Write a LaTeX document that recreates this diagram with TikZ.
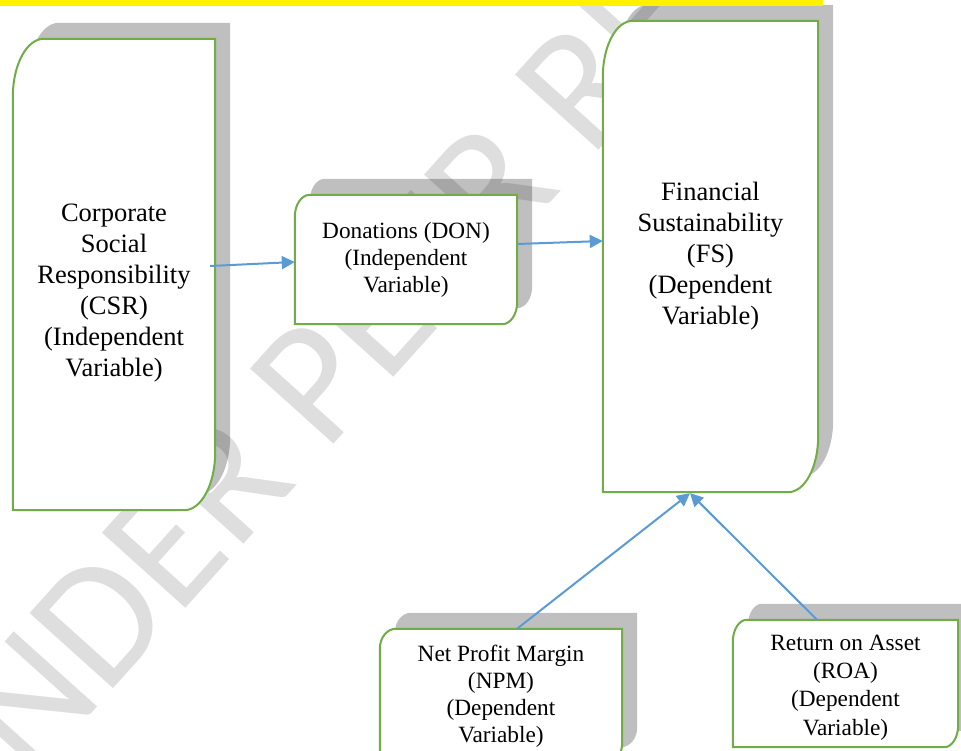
\documentclass[tikz,border=0pt]{standalone}
\usepackage{fontspec}
\setmainfont{Liberation Serif}
\newfontfamily\markfont{Carlito}
\usetikzlibrary{backgrounds,calc,arrows.meta}

\definecolor{framegreen}{HTML}{70AD47}
\definecolor{linkblue}{HTML}{5B9BD5}
\definecolor{shadowgray}{HTML}{BFBFBF}

% box with round top-left and bottom-right corners
% #1 node, #2/#3 corner radii, #4/#5 offset (all in pt)
\newcommand\cornerbox[5]{let \p1=(#1.north west), \p2=(#1.south east) in
  (\x1+#4pt,\y1-#3pt+#5pt) arc[start angle=180,end angle=90,x radius=#2pt,y radius=#3pt]
  -- (\x2+#4pt,\y1+#5pt) -- (\x2+#4pt,\y2+#3pt+#5pt)
  arc[start angle=0,end angle=-90,x radius=#2pt,y radius=#3pt]
  -- (\x1+#4pt,\y2+#5pt) -- cycle}

\begin{document}
\begin{tikzpicture}[x=1pt,y=-1pt]
    % `varbox' holds the place and text of a box, its outline is drawn below.
    % `link' is used for the blue arrows.
    \tikzstyle{varbox} = [inner sep=0pt,align=center,font=\fontsize{23.3}{27}\selectfont]
    \tikzstyle{bigtext} = [align=center,font=\fontsize{26.5}{31}\selectfont]
    \tikzstyle{smalltext} = [align=center,font=\fontsize{23.3}{28.3}\selectfont]
    \tikzstyle{shade} = [fill=shadowgray]
    \tikzstyle{frame} = [draw=framegreen,line width=2pt,fill=white]
    \tikzstyle{link} = [draw=linkblue,line width=2pt,-{Triangle[length=13pt,width=13pt]}]
    \tikzstyle{watermark} = [anchor=base west,rotate=48,inner sep=0pt,text=black,
      text opacity=0.13,font=\markfont\fontsize{175}{175}\selectfont]
    %
    \useasboundingbox (0,0) rectangle (961,751);
    \clip (0,0) rectangle (961,751);
    \fill[yellow] (0,0) rectangle (823,6);
    %
    \node[varbox,minimum width=202pt,minimum height=471pt,
      label={[bigtext,yshift=-18.5pt]center:Corporate\\Social\\Responsibility\\(CSR)\\(Independent\\Variable)}]
      (csr) at (114,274.5) {};
    \node[varbox,minimum width=222pt,minimum height=129pt] (don) at (406,259.5)
      {Donations (DON)\\(Independent\\Variable)};
    \node[varbox,minimum width=215pt,minimum height=471pt,font=\fontsize{26.5}{31}\selectfont]
      (fs) at (710.5,256.5) {Financial\\Sustainability\\(FS)\\(Dependent\\Variable)};
    \node[varbox,minimum width=242pt,minimum height=134pt] (npm) at (501,696)
      {Net Profit Margin\\(NPM)\\(Dependent\\Variable)};
    \node[varbox,minimum width=225pt,minimum height=127pt,
      label={[smalltext,yshift=-4pt]center:Return on Asset\\(ROA)\\(Dependent\\Variable)}]
      (roa) at (845.5,683.5) {};
    %
    \begin{pgfonlayer}{background}
        % Draw shadows, watermark and boxes.
        \foreach \b/\rx/\ry in {csr/31/58, don/15/22, fs/30/56, npm/16/20, roa/14/22}
            \fill[shade] \cornerbox{\b}{\rx}{\ry}{15}{16};
        \node[watermark] (wm) at (-45,865) {UNDER PEER REVIEW};
        \foreach \b/\rx/\ry in {csr/31/58, don/15/22, fs/30/56, npm/16/20, roa/14/22}
            \draw[frame] \cornerbox{\b}{\rx}{\ry}{0}{0};
    \end{pgfonlayer}
    %
    \coordinate (fsin) at ($(fs.south)+(-20.5,1)$);
    \draw[link] ($(csr.east)+(-5,-8.5)$) -- ($(don.west)+(0,2.5)$);
    \draw[link] ($(don.east)+(0,-15.5)$) -- ($(fs.west)+(0,-15.5)$);
    \draw[link] ($(npm.north)+(16,0)$) -- (fsin);
    \draw[link] ($(roa.north)+(-28.5,0)$) -- (fsin);
\end{tikzpicture}
\end{document}
